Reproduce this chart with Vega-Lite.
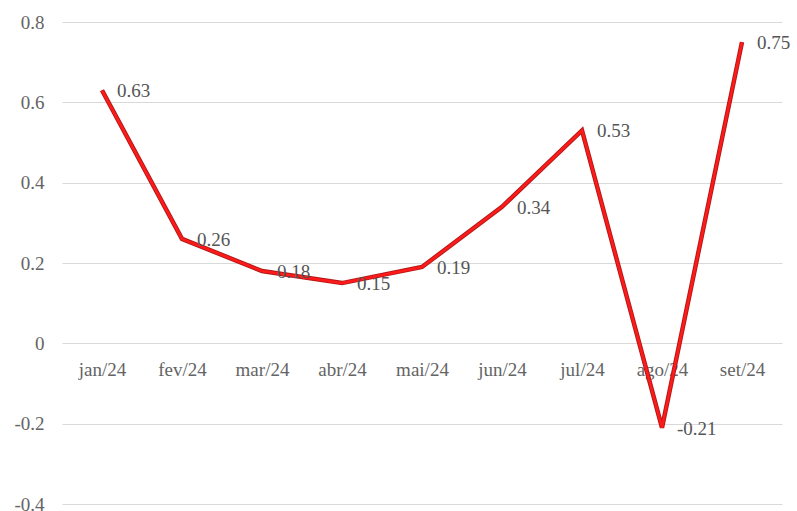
{
  "$schema": "https://vega.github.io/schema/vega-lite/v6.json",
  "width": 720,
  "height": 482,
  "autosize": {"type": "none"},
  "padding": {"left": 62, "top": 22, "right": 15, "bottom": 7},
  "background": "white",
  "config": {
    "view": {"stroke": null},
    "font": "Liberation Serif"
  },
  "data": {
    "values": [
      {"mes": "jan/24", "valor": 0.63},
      {"mes": "fev/24", "valor": 0.26},
      {"mes": "mar/24", "valor": 0.18},
      {"mes": "abr/24", "valor": 0.15},
      {"mes": "mai/24", "valor": 0.19},
      {"mes": "jun/24", "valor": 0.34},
      {"mes": "jul/24", "valor": 0.53},
      {"mes": "ago/24", "valor": -0.21},
      {"mes": "set/24", "valor": 0.75}
    ]
  },
  "encoding": {
    "x": {
      "field": "mes",
      "type": "ordinal",
      "sort": null,
      "scale": {"type": "point", "padding": 0.5},
      "axis": {
        "title": null,
        "labelAngle": 0,
        "offset": -161,
        "domain": false,
        "ticks": false,
        "labelPadding": 17,
        "labelFont": "Liberation Serif",
        "labelFontSize": 19,
        "labelColor": "#646464"
      }
    },
    "y": {
      "field": "valor",
      "type": "quantitative",
      "scale": {"domain": [-0.4, 0.8], "nice": false, "zero": false},
      "axis": {
        "title": null,
        "values": [-0.4, -0.2, 0, 0.2, 0.4, 0.6, 0.8],
        "labelExpr": "toString(datum.value)",
        "domain": false,
        "ticks": false,
        "labelPadding": 18,
        "labelFont": "Liberation Serif",
        "labelFontSize": 19,
        "labelColor": "#646464",
        "gridColor": "#d9d9d9",
        "gridWidth": 1.2
      }
    }
  },
  "layer": [
    {
      "mark": {"type": "line", "color": "#b01818", "strokeWidth": 4.5, "strokeJoin": "miter"}
    },
    {
      "mark": {"type": "line", "color": "#ff1a1a", "strokeWidth": 2.6, "strokeJoin": "miter"}
    },
    {
      "mark": {
        "type": "text",
        "align": "left",
        "baseline": "middle",
        "dx": 15,
        "dy": 1,
        "fontSize": 19,
        "color": "#555555"
      },
      "encoding": {"text": {"field": "valor", "type": "nominal"}}
    }
  ]
}
